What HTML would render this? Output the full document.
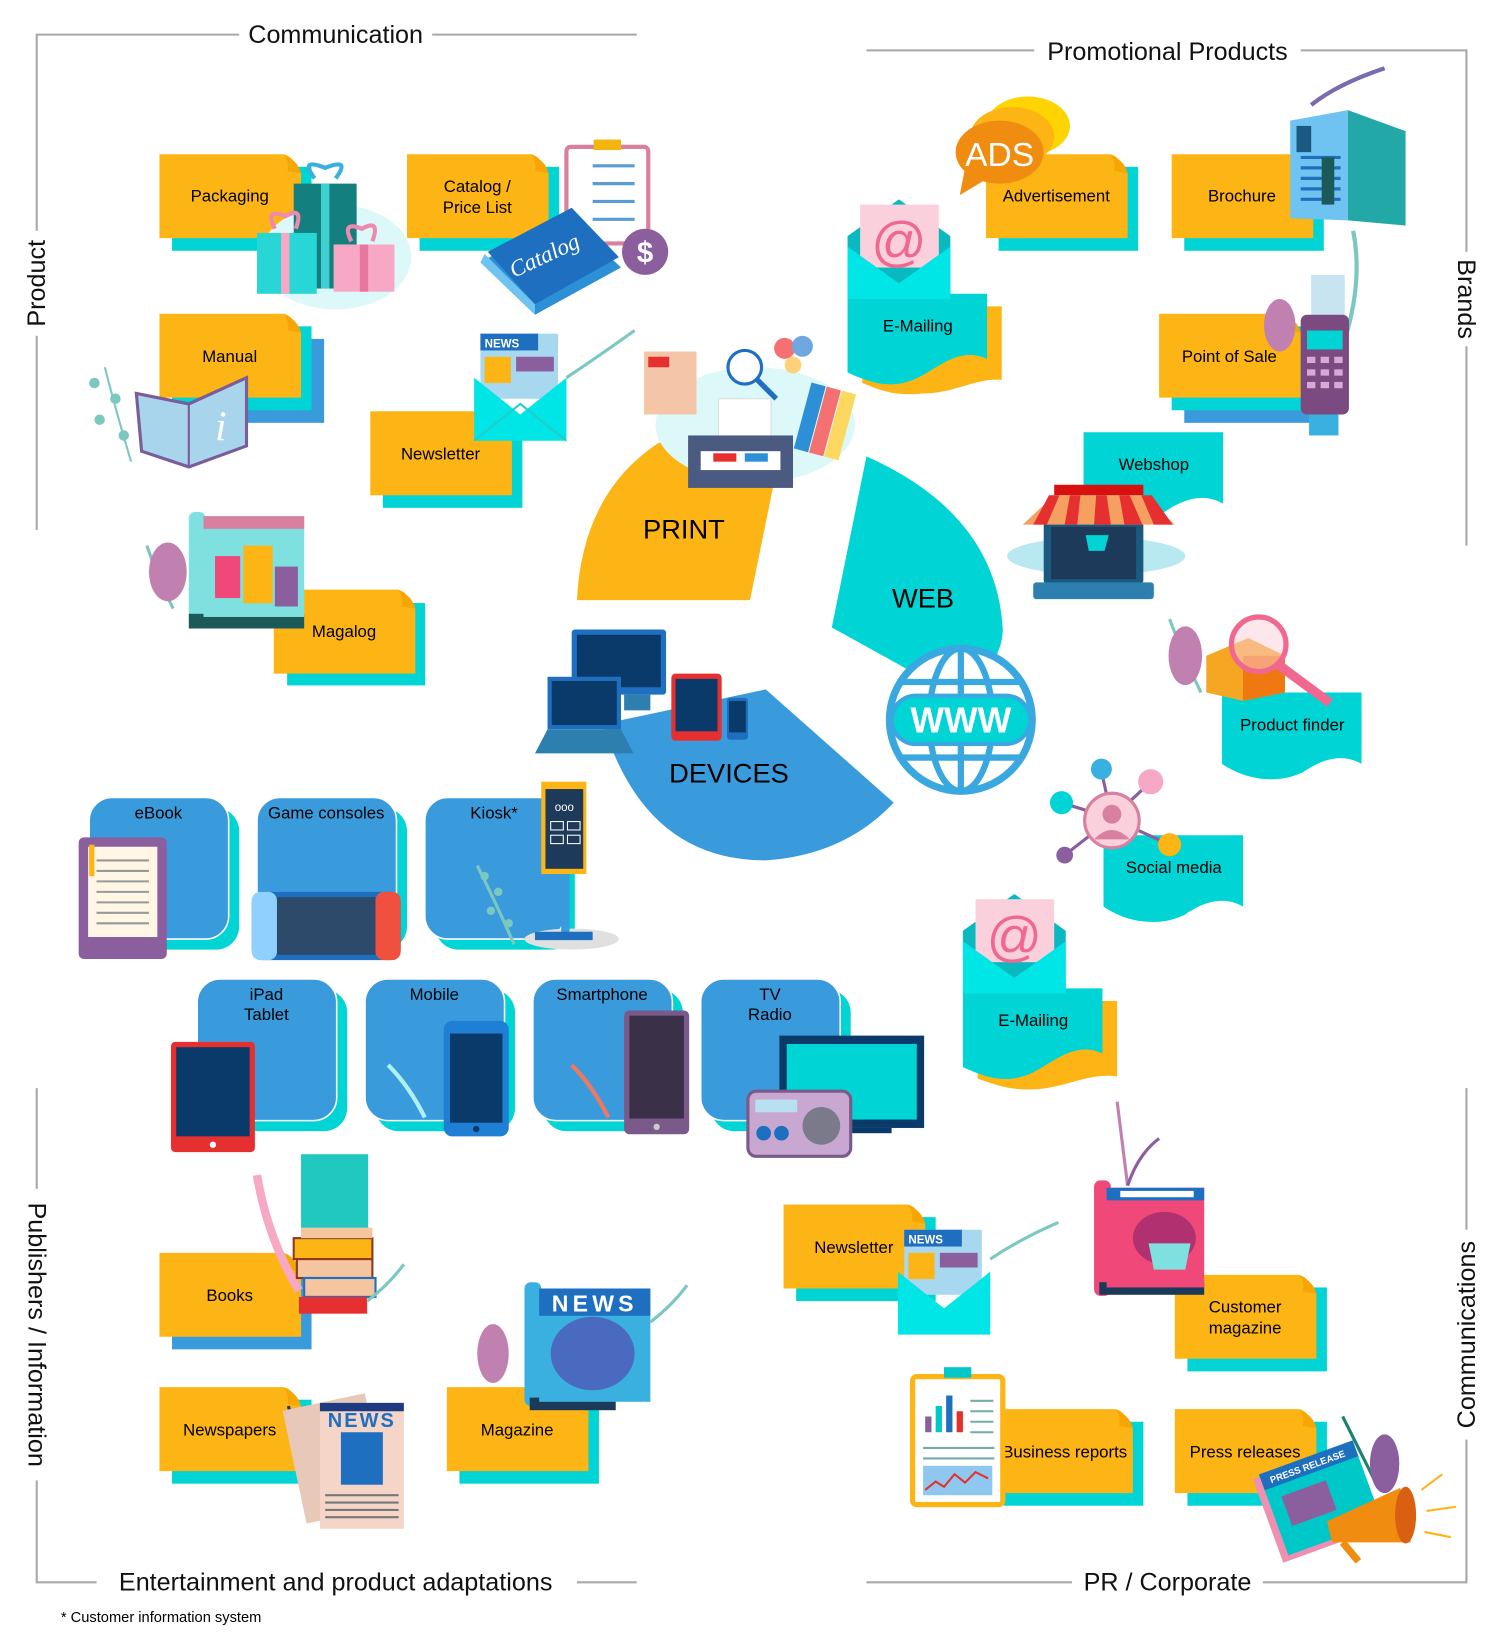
<!DOCTYPE html>
<html><head><meta charset="utf-8"><style>
html,body{margin:0;padding:0;background:#fff;}
svg{display:block;font-family:"Liberation Sans",Arial,sans-serif;}
</style></head><body>
<svg width="1500" height="1640" viewBox="0 0 1430 1563" preserveAspectRatio="none" xmlns="http://www.w3.org/2000/svg">
<defs>
<g id="note"><path d="M0,0 H118 Q128,2 128,12 L135,18 V80 H0 Z" fill="#FDB515"/><path d="M118,0 Q124,6 122,16 L135,18 Q132,6 118,0Z" fill="#F7A500"/></g>
</defs>
<g stroke="#A8A8A8" stroke-width="2" fill="none">
<path d="M35,505 V33 H607"/><path d="M826,48 H1398 V520"/>
<path d="M35,1037 V1508 H607"/><path d="M826,1508 H1398 V1037"/>
</g>
<g font-size="24" fill="#111">
<rect x="228" y="18" width="184" height="30" fill="#fff"/><text x="320" y="41" text-anchor="middle">Communication</text>
<rect x="986" y="33" width="254" height="30" fill="#fff"/><text x="1113" y="57" text-anchor="middle">Promotional Products</text>
<rect x="92" y="1493" width="458" height="30" fill="#fff"/><text x="320" y="1516" text-anchor="middle">Entertainment and product adaptations</text>
<rect x="1022" y="1493" width="182" height="30" fill="#fff"/><text x="1113" y="1516" text-anchor="middle">PR / Corporate</text>
<rect x="20" y="220" width="30" height="100" fill="#fff"/><text transform="translate(43,270) rotate(-90)" text-anchor="middle">Product</text>
<rect x="1383" y="240" width="30" height="90" fill="#fff"/><text transform="translate(1390,285) rotate(90)" text-anchor="middle">Brands</text>
<rect x="20" y="1133" width="30" height="278" fill="#fff"/><text transform="translate(27,1272) rotate(90)" text-anchor="middle">Publishers / Information</text>
<rect x="1383" y="1172" width="30" height="200" fill="#fff"/><text transform="translate(1406,1272) rotate(-90)" text-anchor="middle">Communications</text>
</g>
<text x="58" y="1546" font-size="14">* Customer information system</text>

<path d="M550,572 Q555,470 628,422 L746,420 L715,572 Z" fill="#FDB515"/>
<text x="652" y="513" font-size="26" text-anchor="middle">PRINT</text>
<path d="M826,435 Q950,490 956,600 Q955,640 905,660 L793,598 Z" fill="#00D4D4"/>
<text x="880" y="579" font-size="26" text-anchor="middle">WEB</text>
<path d="M575,690 Q615,820 730,820 Q805,815 852,765 L730,657 Z" fill="#3A9BDC"/>
<text x="695" y="746" font-size="26" text-anchor="middle">DEVICES</text>

<g font-size="16" text-anchor="middle">
<rect x="164" y="159" width="133" height="80" fill="#00D4D4"/><use href="#note" x="152" y="147"/>
<rect x="400" y="159" width="133" height="80" fill="#00D4D4"/><use href="#note" x="388" y="147"/><text x="455" y="183">Catalog /</text><text x="455" y="203">Price List</text>
<rect x="176" y="323" width="133" height="80" fill="#3A9BDC"/><rect x="164" y="311" width="133" height="80" fill="#00D4D4"/><use href="#note" x="152" y="299"/><text x="219" y="345">Manual</text>
<rect x="365" y="404" width="133" height="80" fill="#00D4D4"/><use href="#note" x="353" y="392"/><text x="420" y="438">Newsletter</text>
<rect x="273" y="574" width="133" height="80" fill="#00D4D4" stroke="#fff" stroke-width="1.5"/><use href="#note" x="261" y="562"/><text x="328" y="607">Magalog</text>
<rect x="952" y="159" width="133" height="80" fill="#00D4D4"/><use href="#note" x="940" y="147"/><text x="1007" y="192">Advertisement</text>
<rect x="1129" y="159" width="133" height="80" fill="#00D4D4"/><use href="#note" x="1117" y="147"/><text x="1184" y="192">Brochure</text>
<rect x="1129" y="323" width="133" height="80" fill="#3A9BDC"/><rect x="1117" y="311" width="133" height="80" fill="#00D4D4"/><use href="#note" x="1105" y="299"/><text x="1172" y="345">Point of Sale</text>
<rect x="164" y="1206" width="133" height="80" fill="#3A9BDC"/><use href="#note" x="152" y="1194"/><text x="219" y="1240">Books</text>
<rect x="164" y="1334" width="133" height="80" fill="#00D4D4"/><use href="#note" x="152" y="1322"/><text x="219" y="1368">Newspapers</text>
<rect x="438" y="1334" width="133" height="80" fill="#00D4D4"/><use href="#note" x="426" y="1322"/><text x="493" y="1368">Magazine</text>
<rect x="759" y="1160" width="133" height="80" fill="#00D4D4"/><use href="#note" x="747" y="1148"/><text x="814" y="1194">Newsletter</text>
<rect x="1132" y="1227" width="133" height="80" fill="#00D4D4"/><use href="#note" x="1120" y="1215"/><text x="1187" y="1251">Customer</text><text x="1187" y="1271">magazine</text>
<rect x="957" y="1355" width="133" height="80" fill="#00D4D4"/><use href="#note" x="945" y="1343"/><text x="1015" y="1389">Business reports</text>
<rect x="1132" y="1355" width="133" height="80" fill="#00D4D4"/><use href="#note" x="1120" y="1343"/><text x="1187" y="1389">Press releases</text>
</g>

<g font-size="16" text-anchor="middle">
<path d="M822,292 h133 v70 C930,360 910,375 880,375 C850,378 835,370 822,365 Z" fill="#FDB515"/>
<path d="M808,280 h133 v62 C915,330 895,350 875,360 C850,372 830,365 808,355 Z" fill="#00D4D4"/><text x="875" y="316">E-Mailing</text>
<path d="M1033,412 h133 v68 C1145,468 1125,478 1110,488 C1085,500 1055,495 1033,480 Z" fill="#00D4D4"/><text x="1100" y="448">Webshop</text>
<path d="M1165,660 h133 v68 C1277,716 1257,726 1242,736 C1217,748 1187,743 1165,728 Z" fill="#00D4D4"/><text x="1232" y="696">Product finder</text>
<path d="M1052,796 h133 v68 C1164,852 1144,862 1129,872 C1104,884 1074,879 1052,864 Z" fill="#00D4D4"/><text x="1119" y="832">Social media</text>
<path d="M932,954 h133 v72 C1040,1022 1020,1035 990,1038 C960,1040 945,1032 932,1028 Z" fill="#FDB515"/>
<path d="M918,942 h133 v62 C1025,992 1005,1012 985,1022 C960,1034 940,1027 918,1017 Z" fill="#00D4D4"/><text x="985" y="978">E-Mailing</text>
</g>

<g font-size="16" text-anchor="middle">
<rect x="95" y="770" width="133" height="135" rx="22" fill="#00D4D4"/><rect x="85" y="760" width="133" height="135" rx="22" fill="#3A9BDC" stroke="#fff" stroke-width="1.5"/><text x="151" y="780">eBook</text>
<rect x="255" y="770" width="133" height="135" rx="22" fill="#00D4D4"/><rect x="245" y="760" width="133" height="135" rx="22" fill="#3A9BDC" stroke="#fff" stroke-width="1.5"/><text x="311" y="780">Game consoles</text>
<rect x="415" y="770" width="133" height="135" rx="22" fill="#00D4D4"/><rect x="405" y="760" width="133" height="135" rx="22" fill="#3A9BDC" stroke="#fff" stroke-width="1.5"/><text x="471" y="780">Kiosk*</text>
<rect x="198" y="943" width="133" height="135" rx="22" fill="#00D4D4"/><rect x="188" y="933" width="133" height="135" rx="22" fill="#3A9BDC" stroke="#fff" stroke-width="1.5"/><text x="254" y="953">iPad</text><text x="254" y="972">Tablet</text>
<rect x="358" y="943" width="133" height="135" rx="22" fill="#00D4D4"/><rect x="348" y="933" width="133" height="135" rx="22" fill="#3A9BDC" stroke="#fff" stroke-width="1.5"/><text x="414" y="953">Mobile</text>
<rect x="518" y="943" width="133" height="135" rx="22" fill="#00D4D4"/><rect x="508" y="933" width="133" height="135" rx="22" fill="#3A9BDC" stroke="#fff" stroke-width="1.5"/><text x="574" y="953">Smartphone</text>
<rect x="678" y="943" width="133" height="135" rx="22" fill="#00D4D4"/><rect x="668" y="933" width="133" height="135" rx="22" fill="#3A9BDC" stroke="#fff" stroke-width="1.5"/><text x="734" y="953">TV</text><text x="734" y="972">Radio</text>
</g>

<!-- gifts -->
<ellipse cx="320" cy="245" rx="72" ry="50" fill="#DDF8F8"/>
<rect x="280" y="175" width="60" height="100" fill="#137F7F"/><rect x="306" y="175" width="8" height="100" fill="#3FD0D0"/>
<path d="M300,170 q-15,-20 10,-10 q25,-10 10,10" fill="none" stroke="#3AB0E0" stroke-width="4"/>
<rect x="245" y="222" width="57" height="58" fill="#28D6D6"/><rect x="268" y="222" width="8" height="58" fill="#F7A8C4"/>
<rect x="318" y="233" width="58" height="45" fill="#F7A8C4"/><rect x="343" y="233" width="8" height="45" fill="#E678A0"/>
<path d="M262,218 q-10,-20 10,-12 q18,-10 10,12" fill="none" stroke="#F088AF" stroke-width="4"/>
<path d="M335,230 q-10,-20 10,-12 q18,-10 10,12" fill="none" stroke="#F088AF" stroke-width="4"/>
<text x="219" y="192" font-size="16" text-anchor="middle">Packaging</text>
<!-- clipboard + catalog -->
<rect x="540" y="140" width="78" height="92" rx="4" fill="#fff" stroke="#D8809E" stroke-width="4"/>
<rect x="566" y="133" width="26" height="10" fill="#F5B50F"/>
<g stroke="#5B9BD5" stroke-width="3"><path d="M565,158h40M565,175h40M565,192h40M565,209h40"/></g>
<path d="M458,250 L540,205 L592,255 L510,300 Z" fill="#2D8FD5"/><path d="M458,250 L510,300 L510,290 L462,242Z" fill="#6FC3F0"/>
<path d="M465,240 L545,198 L590,245 L510,290 Z" fill="#1E6FBF"/>
<text x="522" y="250" fill="#fff" font-size="22" font-family="Liberation Serif" font-style="italic" text-anchor="middle" transform="rotate(-25 522 250)">Catalog</text>
<circle cx="615" cy="240" r="22" fill="#8B5E9E"/><text x="615" y="250" fill="#fff" font-size="28" font-weight="bold" text-anchor="middle">$</text>
<!-- manual book -->
<g fill="#7CC8C0"><path d="M100,350 q10,40 25,90" stroke="#7CC8C0" stroke-width="2" fill="none"/><circle cx="90" cy="365" r="5"/><circle cx="110" cy="380" r="5"/><circle cx="95" cy="400" r="5"/><circle cx="118" cy="415" r="5"/></g>
<path d="M130,375 L180,385 L235,360 L235,425 L180,445 L135,430 Z" fill="#A8D4EC" stroke="#7A5C9A" stroke-width="3"/>
<path d="M180,385 V445" stroke="#7A5C9A" stroke-width="2"/>
<text x="205" y="420" fill="#fff" font-size="40" font-family="Liberation Serif" font-style="italic">i</text>
<!-- newsletter envelope -->
<rect x="458" y="318" width="74" height="62" fill="#A8D8F0"/><rect x="458" y="318" width="55" height="16" fill="#1E6FBF"/><text x="462" y="331" fill="#fff" font-size="11" font-weight="bold">NEWS</text>
<rect x="462" y="340" width="25" height="25" fill="#FDB515"/><rect x="492" y="340" width="36" height="14" fill="#8B5E9E"/>
<path d="M452,360 L496,395 L540,360 V420 H452 Z" fill="#00E5E5"/><path d="M452,420 L496,385 L540,420" fill="none" stroke="#2CC" stroke-width="2"/>
<path d="M540,360 q30,-20 65,-45" stroke="#7CC8C0" stroke-width="3" fill="none"/>
<!-- printer cluster -->
<ellipse cx="720" cy="405" rx="95" ry="55" fill="#DDF8F8"/>
<rect x="614" y="335" width="50" height="60" fill="#F5C5A8"/><rect x="618" y="340" width="20" height="10" fill="#E63030"/>
<circle cx="710" cy="350" r="16" fill="#fff" stroke="#1E6FBF" stroke-width="3"/><path d="M722,362 l18,18" stroke="#1E6FBF" stroke-width="5"/>
<circle cx="748" cy="332" r="10" fill="#F57070"/><circle cx="765" cy="330" r="10" fill="#6FA8E0"/><circle cx="756" cy="348" r="8" fill="#FFD27A"/>
<g transform="rotate(15 790 400)"><rect x="765" y="370" width="14" height="65" fill="#2D8FD5"/><rect x="780" y="370" width="14" height="65" fill="#F57070"/><rect x="795" y="370" width="14" height="65" fill="#FDD860"/></g>
<rect x="685" y="380" width="50" height="40" fill="#fff" stroke="#ddd"/>
<rect x="656" y="415" width="100" height="50" fill="#4A5A80"/><rect x="668" y="430" width="76" height="18" fill="#fff"/><rect x="680" y="432" width="22" height="8" fill="#E63030"/><rect x="710" y="432" width="22" height="8" fill="#2D8FD5"/>
<!-- magalog -->
<path d="M140,520 q10,30 25,60" stroke="#7CC8C0" stroke-width="3" fill="none"/>
<ellipse cx="160" cy="545" rx="18" ry="28" fill="#C080B0"/>
<rect x="180" y="488" width="16" height="110" rx="6" fill="#7FE0E0"/><rect x="180" y="585" width="110" height="14" fill="#1B5A58"/>
<rect x="194" y="492" width="96" height="96" fill="#7FE0E0"/><rect x="194" y="492" width="96" height="12" fill="#D880A0"/>
<rect x="205" y="530" width="24" height="40" fill="#F04878"/><rect x="232" y="520" width="28" height="55" fill="#FDB515"/><rect x="262" y="540" width="22" height="38" fill="#8B5E9E"/>
<!-- ADS -->
<ellipse cx="980" cy="120" rx="40" ry="28" fill="#FFD400"/>
<ellipse cx="965" cy="130" rx="40" ry="28" fill="#FDB515"/>
<path d="M920,160 L915,186 L945,168 Z" fill="#F08C10"/>
<ellipse cx="953" cy="145" rx="42" ry="30" fill="#F08C10"/><text x="953" y="158" fill="#fff" font-size="32" text-anchor="middle">ADS</text>
<!-- brochure -->
<path d="M1250,100 q25,-20 70,-35" stroke="#7A6AB0" stroke-width="4" fill="none"/>
<path d="M1230,115 L1285,105 L1285,210 L1230,208 Z" fill="#6FC3F0"/><path d="M1285,105 L1340,125 L1340,215 L1285,210Z" fill="#23A8A8"/>
<g stroke="#1E6FBF" stroke-width="3"><path d="M1240,150h38M1240,160h38M1240,170h38M1240,180h38M1240,190h38"/></g>
<rect x="1236" y="120" width="14" height="25" fill="#1B5A80"/><rect x="1260" y="150" width="12" height="45" fill="#1B5A58"/>
<!-- email 1 -->
<path d="M808,225 L857,190 L906,225 V285 H808 Z" fill="#0AB8C0"/>
<rect x="820" y="195" width="75" height="60" fill="#FAD0DC"/><text x="857" y="248" fill="#F06890" font-size="52" text-anchor="middle">@</text>
<path d="M808,235 L857,270 L906,235 V285 H808 Z" fill="#00E5E5"/>
<!-- POS -->
<path d="M1290,220 q10,50 -10,110" stroke="#7CC8C0" stroke-width="4" fill="none"/>
<ellipse cx="1220" cy="310" rx="15" ry="25" fill="#C080B0"/>
<rect x="1250" y="262" width="32" height="45" fill="#C8E4F0"/>
<rect x="1240" y="300" width="46" height="95" rx="6" fill="#7A4A80"/><rect x="1246" y="315" width="34" height="18" fill="#00D4D4"/>
<g fill="#D8A8D8"><rect x="1246" y="340" width="8" height="6"/><rect x="1259" y="340" width="8" height="6"/><rect x="1272" y="340" width="8" height="6"/><rect x="1246" y="352" width="8" height="6"/><rect x="1259" y="352" width="8" height="6"/><rect x="1272" y="352" width="8" height="6"/><rect x="1246" y="364" width="8" height="6"/><rect x="1259" y="364" width="8" height="6"/><rect x="1272" y="364" width="8" height="6"/></g>
<rect x="1248" y="395" width="28" height="20" fill="#3AB0E0"/>
<!-- webshop -->
<ellipse cx="1045" cy="530" rx="85" ry="18" fill="#B8E8F0"/>
<rect x="995" y="495" width="95" height="62" rx="4" fill="#1B5A80"/><rect x="1002" y="502" width="81" height="50" fill="#1E3A5A"/>
<rect x="985" y="555" width="115" height="16" rx="3" fill="#2D7FB0"/>
<rect x="1005" y="462" width="85" height="10" fill="#D81010"/>
<path d="M975,500 L1005,472 H1090 L1120,500 Z" fill="#F5A060"/>
<g fill="#E63030"><path d="M985,500 l15,-28 h10 l-12,28z"/><path d="M1015,500 l5,-28 h10 l-3,28z"/><path d="M1043,500 l2,-28 h10 l4,28z"/><path d="M1072,500 l-5,-28 h10 l12,28z"/><path d="M1100,500 l-12,-28 h10 l20,28z"/></g>
<path d="M1035,510 h22 l-4,15 h-15 z" fill="#00D4D4"/>
<!-- globe -->
<circle cx="916" cy="686" r="68" fill="#fff" stroke="#3AA8E0" stroke-width="7"/>
<ellipse cx="916" cy="686" rx="30" ry="68" fill="none" stroke="#3AA8E0" stroke-width="6"/>
<path d="M916,618 V754 M856,650 H976 M856,722 H976" stroke="#3AA8E0" stroke-width="6"/>
<rect x="850" y="663" width="132" height="46" rx="23" fill="#00D4D4" stroke="#3AA8E0" stroke-width="4"/>
<text x="916" y="698" fill="#fff" font-size="34" font-weight="bold" text-anchor="middle">WWW</text>
<!-- product finder -->
<path d="M1115,590 q15,40 30,70" stroke="#7CC8C0" stroke-width="3" fill="none"/><ellipse cx="1130" cy="625" rx="16" ry="28" fill="#C080B0"/>
<path d="M1150,625 L1190,608 L1225,625 V660 L1185,668 L1150,660 Z" fill="#F5A623"/><path d="M1185,625 L1225,625 V660 L1185,668Z" fill="#F07810"/>
<circle cx="1200" cy="614" r="26" fill="#FCD0DC" fill-opacity="0.5" stroke="#F06890" stroke-width="5"/>
<path d="M1218,633 L1268,670" stroke="#F06890" stroke-width="9"/>
<!-- social -->
<g stroke="#8B5E9E" stroke-width="3"><path d="M1060,780 L1050,735 M1060,780 L1012,765 M1060,780 L1015,815 M1060,780 L1097,745 M1060,780 L1115,805"/></g>
<circle cx="1060" cy="782" r="26" fill="#FAD0DC" stroke="#D880A0" stroke-width="3"/><circle cx="1060" cy="776" r="9" fill="#D880A0"/><path d="M1043,800 q17,-18 34,0" fill="#D880A0"/>
<circle cx="1050" cy="733" r="10" fill="#3AB0E0"/><circle cx="1012" cy="765" r="11" fill="#00D4D4"/><circle cx="1015" cy="815" r="8" fill="#8B5E9E"/><circle cx="1097" cy="745" r="12" fill="#F7A8C4"/><circle cx="1115" cy="805" r="11" fill="#FDB515"/>
<!-- email 2 -->
<path d="M918,887 L967,852 L1016,887 V947 H918 Z" fill="#0AB8C0"/>
<rect x="930" y="857" width="75" height="60" fill="#FAD0DC"/><text x="967" y="910" fill="#F06890" font-size="52" text-anchor="middle">@</text>
<path d="M918,897 L967,932 L1016,897 V947 H918 Z" fill="#00E5E5"/>
<!-- devices -->
<rect x="545" y="600" width="90" height="62" rx="3" fill="#1E6FBF"/><rect x="550" y="605" width="80" height="50" fill="#0A3A6A"/><rect x="595" y="662" width="25" height="15" fill="#2D7FB0"/>
<rect x="522" y="645" width="70" height="50" fill="#1E6FBF"/><rect x="526" y="649" width="62" height="42" fill="#0A3A6A"/><path d="M510,718 L522,695 H592 L604,718 Z" fill="#2D7FB0"/>
<rect x="640" y="642" width="48" height="64" rx="4" fill="#E63030"/><rect x="644" y="647" width="40" height="50" fill="#0A3A6A"/>
<rect x="693" y="665" width="20" height="40" rx="3" fill="#1E6FBF"/><rect x="695" y="668" width="16" height="30" fill="#0A3A6A"/>
<!-- ebook -->
<rect x="75" y="798" width="84" height="116" rx="5" fill="#8B5E9E"/><rect x="84" y="807" width="66" height="86" fill="#FFF6E6"/>
<g stroke="#999" stroke-width="2"><path d="M92,820h50M92,830h50M92,840h50M92,850h50M92,860h50M92,870h50M92,880h50"/></g>
<rect x="85" y="805" width="5" height="30" fill="#FDB515"/>
<!-- switch -->
<rect x="240" y="850" width="142" height="65" rx="10" fill="#1E6FBF"/><rect x="264" y="855" width="94" height="55" fill="#2D4A6A"/>
<rect x="240" y="850" width="24" height="65" rx="8" fill="#8FD0FF"/><rect x="358" y="850" width="24" height="65" rx="8" fill="#F05040"/>
<!-- kiosk -->
<path d="M455,825 q20,40 35,75" stroke="#7CC8C0" stroke-width="3" fill="none"/>
<g fill="#7CC8C0"><circle cx="462" cy="835" r="4"/><circle cx="475" cy="850" r="4"/><circle cx="468" cy="868" r="4"/><circle cx="485" cy="880" r="4"/></g>
<ellipse cx="545" cy="895" rx="45" ry="10" fill="#E0E0E0"/>
<rect x="535" y="830" width="8" height="62" fill="#3A9BDC"/><rect x="510" y="888" width="55" height="8" fill="#1E6FBF"/>
<rect x="516" y="745" width="43" height="88" fill="#FDB515"/><rect x="520" y="752" width="36" height="76" fill="#1E3A5A"/>
<text x="538" y="773" fill="#fff" font-size="11" text-anchor="middle">ooo</text>
<g fill="none" stroke="#fff"><rect x="525" y="783" width="12" height="8"/><rect x="541" y="783" width="12" height="8"/><rect x="525" y="796" width="12" height="8"/><rect x="541" y="796" width="12" height="8"/></g>
<!-- ipad -->
<rect x="163" y="993" width="80" height="105" rx="4" fill="#E63030"/><rect x="168" y="998" width="70" height="85" fill="#0A3A6A"/><circle cx="203" cy="1091" r="3" fill="#fff"/>
<!-- mobile -->
<path d="M370,1015 q20,20 35,50" stroke="#B0F0F0" stroke-width="4" fill="none"/>
<rect x="423" y="973" width="62" height="110" rx="8" fill="#1E7FD5"/><rect x="429" y="985" width="50" height="85" fill="#0A3A6A"/><circle cx="454" cy="1076" r="3" fill="#0A3A6A"/>
<!-- smartphone -->
<path d="M545,1015 q20,20 35,50" stroke="#F07860" stroke-width="4" fill="none"/>
<rect x="595" y="963" width="62" height="118" rx="5" fill="#7A5A8A"/><rect x="600" y="968" width="52" height="98" fill="#3A3048"/><circle cx="626" cy="1074" r="3" fill="#ccc"/>
<!-- TV radio -->
<rect x="743" y="987" width="138" height="88" fill="#0A3A6A"/><rect x="750" y="995" width="124" height="72" fill="#00D4D4"/><rect x="800" y="1075" width="50" height="5" fill="#0A3A6A"/>
<rect x="713" y="1040" width="98" height="62" rx="8" fill="#C8A8D0" stroke="#7A5A8A" stroke-width="3"/>
<circle cx="728" cy="1080" r="7" fill="#1E6FBF"/><circle cx="745" cy="1080" r="7" fill="#1E6FBF"/><circle cx="783" cy="1073" r="18" fill="#7A7A8A"/>
<rect x="720" y="1048" width="40" height="12" fill="#B8E0F0"/>
<!-- books -->
<path d="M245,1120 q10,60 40,110" stroke="#F7A8C4" stroke-width="8" fill="none"/>
<rect x="280" y="1180" width="75" height="20" fill="#FDB515" stroke="#8B3A20" stroke-width="2"/>
<rect x="287" y="1100" width="64" height="80" fill="#20C8C0"/><rect x="287" y="1170" width="68" height="10" fill="#F5C5A0"/>
<rect x="283" y="1200" width="72" height="18" fill="#F5C5A0" stroke="#8B3A20" stroke-width="2"/>
<rect x="290" y="1218" width="68" height="18" fill="#F5C5A0" stroke="#1E6FBF" stroke-width="2"/>
<rect x="285" y="1236" width="65" height="16" fill="#E63030"/>
<path d="M350,1240 q20,-15 35,-35" stroke="#7CC8C0" stroke-width="3" fill="none"/>
<!-- newspaper -->
<path d="M275,1340 q10,40 15,90" stroke="#1E3A80" stroke-width="3" fill="none"/>
<rect x="280" y="1335" width="80" height="110" fill="#E8C8B8" transform="rotate(-12 320 1390)"/>
<rect x="305" y="1337" width="80" height="120" fill="#F5D5C8"/><rect x="305" y="1337" width="80" height="8" fill="#1E3A80"/>
<text x="345" y="1360" fill="#1E6FBF" font-size="19" font-weight="bold" text-anchor="middle" letter-spacing="2">NEWS</text>
<rect x="325" y="1365" width="40" height="50" fill="#1E6FBF"/>
<g stroke="#777" stroke-width="2"><path d="M310,1425h70M310,1432h70M310,1439h70M310,1446h70"/></g>
<!-- news magazine -->
<ellipse cx="470" cy="1290" rx="15" ry="28" fill="#C080B0"/>
<rect x="500" y="1222" width="16" height="118" rx="6" fill="#3AB0E0"/><rect x="505" y="1332" width="82" height="12" fill="#1B3A5A"/>
<rect x="514" y="1228" width="106" height="108" fill="#3AB0E0"/><rect x="514" y="1228" width="106" height="26" fill="#1E6FBF"/>
<text x="567" y="1250" fill="#fff" font-size="22" font-weight="bold" text-anchor="middle" letter-spacing="4">NEWS</text>
<ellipse cx="565" cy="1290" rx="40" ry="35" fill="#4A6ABF"/>
<path d="M620,1260 q20,-15 35,-35" stroke="#7CC8C0" stroke-width="3" fill="none"/>
<!-- newsletter right -->
<rect x="862" y="1172" width="74" height="62" fill="#A8D8F0"/><rect x="862" y="1172" width="55" height="16" fill="#1E6FBF"/><text x="866" y="1185" fill="#fff" font-size="11" font-weight="bold">NEWS</text>
<rect x="866" y="1194" width="25" height="25" fill="#FDB515"/><rect x="896" y="1194" width="36" height="14" fill="#8B5E9E"/>
<path d="M856,1212 L900,1247 L944,1212 V1272 H856 Z" fill="#00E5E5"/>
<path d="M944,1200 q30,-20 65,-35" stroke="#7CC8C0" stroke-width="3" fill="none"/>
<!-- customer magazine -->
<path d="M1065,1050 q5,40 10,80" stroke="#C080B0" stroke-width="3" fill="none"/><path d="M1075,1130 q10,-30 30,-45" stroke="#8B5E9E" stroke-width="3" fill="none"/>
<rect x="1043" y="1125" width="16" height="110" rx="6" fill="#F04878"/><rect x="1048" y="1222" width="100" height="12" fill="#1B3A5A"/>
<rect x="1055" y="1132" width="93" height="95" fill="#F04878"/><rect x="1055" y="1132" width="93" height="12" fill="#1E6FBF"/><rect x="1068" y="1135" width="70" height="6" fill="#fff"/>
<ellipse cx="1110" cy="1180" rx="30" ry="25" fill="#B03070"/><path d="M1095,1185 h40 l-5,25 h-30z" fill="#7FE0E0"/>
<!-- business report -->
<rect x="870" y="1312" width="86" height="122" rx="4" fill="#fff" stroke="#FDB515" stroke-width="5"/><rect x="900" y="1303" width="26" height="10" fill="#00C8C8"/>
<rect x="882" y="1350" width="6" height="15" fill="#8B5E9E"/><rect x="892" y="1340" width="6" height="25" fill="#00C8C8"/><rect x="902" y="1330" width="6" height="35" fill="#1E6FBF"/><rect x="912" y="1345" width="6" height="20" fill="#E63030"/>
<g stroke="#7AA" stroke-width="2"><path d="M925,1335h22M925,1345h22M925,1355h22M925,1365h22M880,1380h68M880,1390h68"/></g>
<rect x="880" y="1397" width="66" height="28" fill="#8EC8F0"/><path d="M882,1420 l10,-8 l8,5 l10,-12 l10,8 l10,-10 l12,6" stroke="#E63030" fill="none" stroke-width="2"/>
<!-- press release -->
<path d="M1280,1350 q15,30 30,60" stroke="#1E8070" stroke-width="3" fill="none"/><ellipse cx="1320" cy="1395" rx="14" ry="28" fill="#8B5E9E"/>
<g transform="rotate(-20 1255 1430)"><rect x="1205" y="1390" width="100" height="85" fill="#F090B0"/><rect x="1212" y="1388" width="95" height="82" fill="#00C8C8"/><rect x="1212" y="1388" width="95" height="16" fill="#1E6FBF"/><text x="1258" y="1400" fill="#fff" font-size="9" font-weight="bold" text-anchor="middle">PRESS RELEASE</text><rect x="1225" y="1415" width="45" height="30" fill="#8B5E9E"/></g>
<path d="M1265,1450 L1335,1418 L1345,1470 L1270,1470 Z" fill="#F08C10"/><ellipse cx="1340" cy="1444" rx="10" ry="27" fill="#D86010"/>
<path d="M1280,1470 l15,18" stroke="#F08C10" stroke-width="7"/>
<g stroke="#FDB515" stroke-width="2"><path d="M1355,1420 l20,-15 M1360,1440 l28,-4 M1358,1460 l25,5"/></g>
</svg>
</body></html>
